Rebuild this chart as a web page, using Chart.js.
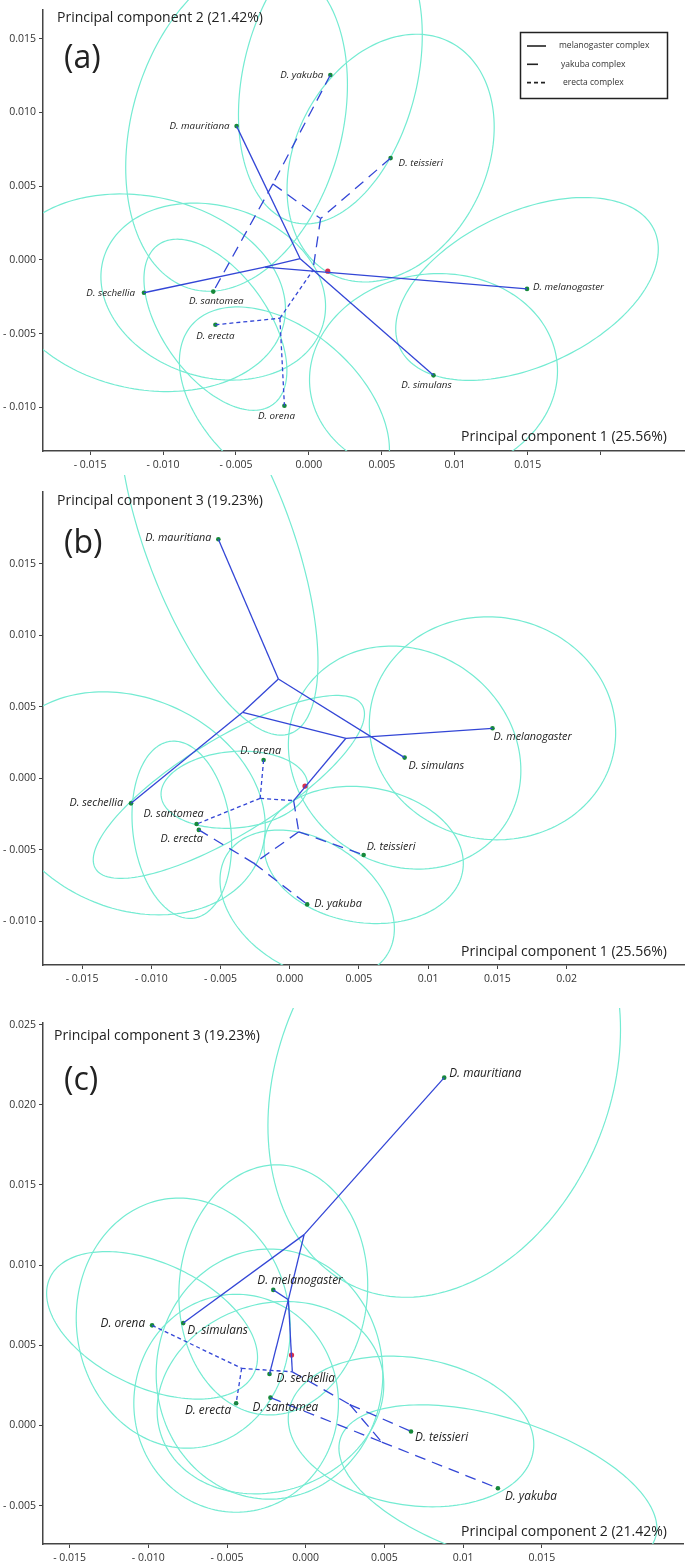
<!DOCTYPE html>
<html>
<head>
<meta charset="utf-8">
<script src="https://cdn.jsdelivr.net/npm/chart.js@4.4.0/dist/chart.umd.min.js"></script>
<style>
  body { margin: 0; background: #fff; }
  #wrap { position: relative; width: 685px; height: 1564px; }
  canvas { position: absolute; left: 0; }
</style>
</head>
<body>
<div id="wrap">
  <canvas id="pa" width="685" height="482" style="top:0px"></canvas>
  <canvas id="pb" width="685" height="510" style="top:475px"></canvas>
  <canvas id="pc" width="685" height="556" style="top:1008px"></canvas>
</div>
<script>
// species order used by every array below
const species = ['D. melanogaster', 'D. simulans', 'D. mauritiana', 'D. sechellia', 'D. yakuba',
  'D. teissieri', 'D. santomea', 'D. erecta', 'D. orena'];

// ---- (a) PC1 x PC2
const pc1A = [0.01495, 0.00854, -0.00496, -0.01131, 0.00147, 0.0056, -0.00656, -0.00641, -0.00168];
const pc2A = [-0.00197, -0.00783, 0.00907, -0.00223, 0.01254, 0.0069, -0.00215, -0.0044, -0.00989];
const rootA = [0.00129, -0.00077];
const nodeXA = [-0.0006, -0.00304, -0.00247, 0.0008, 0.00027, -0.00199];
const nodeYA = [0.00008, -0.00049, 0.00515, 0.0028, -0.00071, -0.00396];
const solidA = [[2, 9], [9, 10], [10, 3], [9, 1], [10, 0]];
const yakubaA = [[4, 11], [11, 6], [11, 12], [5, 12], [12, 13]];
const erectaA = [[7, 14], [14, 8], [14, 13]];
const ellXA = [0.01495, 0.00854, -0.00496, -0.01131, 0.00147, 0.0056, -0.00656, -0.00641, -0.00168];
const ellYA = [-0.00197, -0.00783, 0.00907, -0.00223, 0.01254, 0.0069, -0.00215, -0.0044, -0.00989];
const ellWA = [0.009, 0.0085, 0.0076, 0.0097, 0.0063, 0.0071, 0.0077, 0.0049, 0.0072];
const ellHA = [0.0062, 0.0069, 0.0112, 0.0067, 0.0101, 0.0084, 0.006, 0.0058, 0.0067];
const ellKA = [0.0027, 0.0003, 0.0028, -0.0011, 0.0027, 0.0021, -0.001, -0.0031, -0.003];

// ---- (b) PC1 x PC3
const pc1B = [0.01465, 0.0083, -0.00516, -0.01147, 0.00126, 0.00534, -0.00673, -0.00657, -0.00189];
const pc3B = [0.0035, 0.00145, 0.01672, -0.00175, -0.00882, -0.00536, -0.0032, -0.00361, 0.00128];
const rootB = [0.0011, -0.00054];
const nodeXB = [-0.00082, -0.0034, 0.00406, 0.00028, -0.00214, 0.00065, -0.00258];
const nodeYB = [0.00695, 0.00462, 0.0028, -0.00156, -0.0014, -0.00374, -0.00595];
const solidB = [[2, 9], [9, 10], [10, 3], [9, 1], [10, 11], [11, 0], [11, 12]];
const yakubaB = [[12, 14], [14, 5], [14, 15], [15, 4], [15, 7]];
const erectaB = [[8, 13], [13, 6], [13, 12]];
const ellXB = [0.01465, 0.0083, -0.00516, -0.01147, 0.00126, 0.00534, -0.0044, -0.0078, -0.004];
const ellYB = [0.0035, 0.00145, 0.01672, -0.00175, -0.00882, -0.00536, -0.0006, -0.0036, -0.0008];
const ellWB = [0.0089, 0.0084, 0.0072, 0.0097, 0.0063, 0.0072, 0.0098, 0.0036, 0.0053];
const ellHB = [0.0078, 0.0078, 0.0137, 0.0078, 0.0052, 0.0048, 0.0064, 0.0062, 0.0027];
const ellKB = [-0.0003, -0.0009, -0.0086, -0.0016, -0.0017, -0.0006, 0.0051, -0.001, 0.0003];

// ---- (c) PC2 x PC3
const pc2C = [-0.00206, -0.00778, 0.0088, -0.0023, 0.01221, 0.00669, -0.00224, -0.00442, -0.00976];
const pc3C = [0.00845, 0.00638, 0.02169, 0.0032, -0.00392, -0.00038, 0.00173, 0.00138, 0.00624];
const rootC = [-0.0009, 0.00439];
const nodeXC = [-0.0001, -0.0011, -0.00085, -0.00407, 0.0028, 0.00483];
const nodeYC = [0.0119, 0.00784, 0.00334, 0.00356, 0.0013, -0.00104];
const solidC = [[2, 9], [9, 1], [9, 10], [10, 0], [10, 3], [10, 11]];
const yakubaC = [[11, 13], [13, 5], [13, 14], [6, 14], [14, 4]];
const erectaC = [[8, 12], [12, 7], [12, 11]];
const ellXC = [-0.00206, -0.00778, 0.0088, -0.0023, 0.01221, 0.00669, -0.00224, -0.00442, -0.00976];
const ellYC = [0.00845, 0.00638, 0.02169, 0.0032, -0.00392, -0.00038, 0.00173, 0.00138, 0.00624];
const ellWC = [0.006, 0.0068, 0.0112, 0.0072, 0.0101, 0.0078, 0.0072, 0.0065, 0.0067];
const ellHC = [0.0078, 0.0078, 0.0137, 0.0078, 0.0052, 0.0047, 0.006, 0.0068, 0.0046];
const ellKC = [0.0003, -0.0003, 0.003, 0, -0.0025, -0.0008, 0.0008, 0, -0.002];

// ticks
const xTicksAB = [-0.015, -0.01, -0.005, 0, 0.005, 0.01, 0.015, 0.02];
const xLabelsA = ['- 0.015', '- 0.010', '- 0.005', '0.000', '0.005', '0.01', '0.015', ''];
const xLabelsB = ['- 0.015', '- 0.010', '- 0.005', '0.000', '0.005', '0.01', '0.015', '0.02'];
const yTicksAB = [-0.01, -0.005, 0, 0.005, 0.01, 0.015];
const yLabelsAB = ['- 0.010', '- 0.005', '0.000', '0.005', '0.010', '0.015'];
const xTicksC = [-0.015, -0.01, -0.005, 0, 0.005, 0.01, 0.015];
const xLabelsC = ['- 0.015', '- 0.010', '- 0.005', '0.000', '0.005', '0.01', '0.015'];
const yTicksC = [-0.005, 0, 0.005, 0.01, 0.015, 0.02, 0.025];
const yLabelsC = ['- 0.005', '0.000', '0.005', '0.010', '0.015', '0.020', '0.025'];

// label placement (px offset from point, alignment)
const labPosA = [[6, -2, 'left'], [-7, 10, 'center'], [-7, 0, 'right'], [-9, 0, 'right'], [-7, 0, 'right'],
  [8, 5, 'left'], [3, 10, 'center'], [0, 11, 'center'], [-8, 10, 'center']];
const labPosB = [[1, 9, 'left'], [4, 8, 'left'], [-7, -1, 'right'], [-8, 0, 'right'], [7, 0, 'left'],
  [3, -8, 'left'], [7, -10, 'right'], [4, 9, 'right'], [-3, -9, 'center']];
const labPosC = [[-16, -9, 'left'], [4, 8, 'left'], [5, -4, 'left'], [7, 5, 'left'], [7, 8, 'left'],
  [4, 6, 'left'], [-18, 10, 'left'], [-5, 7, 'right'], [-7, -2, 'right']];

const LINE = '#3346d6';
const ELL = '#74ebd2';
const GREEN = '#16893a';
const RED = '#d8304c';
const FONT = '"Open Sans", "DejaVu Sans", sans-serif';

const panels = {
  pa: { letter: '(a)', ytitle: 'Principal component 2 (21.42%)', xtitle: 'Principal component 1 (25.56%)',
    ell: [ellXA, ellYA, ellWA, ellHA, ellKA], lab: labPosA, labSize: 9.8, legend: true,
    letterDy: 50, ytDx: 14, ytDy: 9, xtDy: 14 },
  pb: { letter: '(b)', ytitle: 'Principal component 3 (19.23%)', xtitle: 'Principal component 1 (25.56%)',
    ell: [ellXB, ellYB, ellWB, ellHB, ellKB], lab: labPosB, labSize: 10.8, legend: false,
    letterDy: 52, ytDx: 14, ytDy: 9, xtDy: 13 },
  pc: { letter: '(c)', ytitle: 'Principal component 3 (19.23%)', xtitle: 'Principal component 2 (21.42%)',
    ell: [ellXC, ellYC, ellWC, ellHC, ellKC], lab: labPosC, labSize: 11.8, legend: false,
    letterDy: 58, ytDx: 11, ytDy: 13, xtDy: 12 }
};

const decor = {
  id: 'decor',
  beforeDatasetsDraw(chart) {
    const p = panels[chart.canvas.id];
    const { ctx, chartArea: a, scales: { x, y } } = chart;
    const [ex, ey, ew, eh, ek] = p.ell;
    ctx.save();
    ctx.beginPath();
    ctx.rect(a.left, 0, a.right - a.left, a.bottom);
    ctx.clip();
    ctx.strokeStyle = ELL;
    ctx.lineWidth = 1.2;
    for (let i = 0; i < ex.length; i++) {
      const q = Math.sqrt(Math.max(eh[i] * eh[i] - ek[i] * ek[i], 0));
      ctx.beginPath();
      for (let s = 0; s <= 180; s++) {
        const t = s / 180 * Math.PI * 2;
        const px = x.getPixelForValue(ex[i] + ew[i] * Math.cos(t));
        const py = y.getPixelForValue(ey[i] + ek[i] * Math.cos(t) + q * Math.sin(t));
        if (s === 0) ctx.moveTo(px, py); else ctx.lineTo(px, py);
      }
      ctx.closePath();
      ctx.stroke();
    }
    ctx.restore();
  },
  afterDatasetsDraw(chart) {
    const p = panels[chart.canvas.id];
    const { ctx, chartArea: a, scales: { x, y } } = chart;
    const pts = chart.data.datasets.find(d => d.label === 'species').data;
    ctx.save();
    ctx.fillStyle = '#222';
    ctx.textBaseline = 'middle';
    ctx.font = 'italic ' + p.labSize + 'px ' + FONT;
    pts.forEach((pt, i) => {
      const [dx, dy, al] = p.lab[i];
      ctx.textAlign = al;
      ctx.fillText(species[i], x.getPixelForValue(pt.x) + dx, y.getPixelForValue(pt.y) + dy);
    });
    // axis titles and panel letter
    ctx.font = '14px ' + FONT;
    ctx.textAlign = 'left';
    ctx.fillText(p.ytitle, a.left + p.ytDx, a.top + p.ytDy);
    ctx.textAlign = 'right';
    ctx.fillText(p.xtitle, 667, a.bottom - p.xtDy);
    ctx.textAlign = 'left';
    ctx.font = '32px ' + FONT;
    ctx.fillText(p.letter, 64, a.top + p.letterDy);
    if (p.legend) {
      ctx.strokeStyle = '#222';
      ctx.lineWidth = 1.5;
      ctx.strokeRect(520.5, 32.5, 147, 66);
      const rows = [['melanogaster complex', []], ['yakuba complex', [11, 9, 2, 20]], ['erecta complex', [4, 3]]];
      rows.forEach((r, i) => {
        const yy = 46 + i * 18.3;
        ctx.beginPath();
        ctx.setLineDash(r[1]);
        ctx.lineWidth = 1.6;
        ctx.moveTo(527, yy);
        ctx.lineTo(546, yy);
        ctx.stroke();
        ctx.setLineDash([]);
        ctx.font = '8.5px ' + FONT;
        ctx.fillStyle = '#333';
        ctx.textAlign = 'left';
        ctx.fillText(r[0], 559 + i * 2, yy);
      });
    }
    ctx.restore();
  }
};

function buildPanel(id, xs, ys, root, nodeX, nodeY, solid, yak, ere, xr, yr, xt, xl, yt, yl, padTop, padRight, xh) {
  const allX = xs.concat(nodeX);
  const allY = ys.concat(nodeY);
  const edgeSets = [];
  const addEdges = (list, dash) => list.forEach(e => edgeSets.push({
    data: [{ x: allX[e[0]], y: allY[e[0]] }, { x: allX[e[1]], y: allY[e[1]] }],
    showLine: true, borderColor: LINE, borderWidth: 1.3, borderDash: dash,
    pointRadius: 0, pointHoverRadius: 0, clip: false
  }));
  addEdges(solid, []);
  addEdges(yak, [11, 7]);
  addEdges(ere, [4, 3]);
  const datasets = edgeSets.concat([
    { label: 'root', data: [{ x: root[0], y: root[1] }], pointRadius: 2.6, pointBackgroundColor: RED,
      pointBorderWidth: 0, clip: false },
    { label: 'species', data: xs.map((v, i) => ({ x: v, y: ys[i] })), pointRadius: 2.3,
      pointBackgroundColor: GREEN, pointBorderWidth: 0, clip: false }
  ]);
  const tickFont = { family: FONT, size: 10.5 };
  return new Chart(document.getElementById(id), {
    type: 'scatter',
    data: { datasets },
    plugins: [decor],
    options: {
      responsive: false,
      animation: false,
      layout: { autoPadding: false, padding: { top: padTop, right: padRight, left: 0, bottom: 0 } },
      plugins: { legend: { display: false }, tooltip: { enabled: false } },
      scales: {
        x: {
          type: 'linear', min: xr[0], max: xr[1],
          afterBuildTicks: s => { s.ticks = xt.map(v => ({ value: v })); },
          afterFit: s => { s.height = xh; },
          ticks: { autoSkip: false, maxRotation: 0, padding: 4, color: '#333', font: tickFont,
            callback: (v, i) => xl[i] },
          grid: { drawOnChartArea: false, drawTicks: true, tickLength: 4, color: '#444', lineWidth: 1 },
          border: { display: true, color: '#444', width: 1.5 }
        },
        y: {
          type: 'linear', min: yr[0], max: yr[1],
          afterBuildTicks: s => { s.ticks = yt.map(v => ({ value: v })); },
          afterFit: s => { s.width = 43; },
          ticks: { autoSkip: false, padding: 3, color: '#333', font: tickFont,
            callback: (v, i) => yl[i] },
          grid: { drawOnChartArea: false, drawTicks: true, tickLength: 4, color: '#444', lineWidth: 1 },
          border: { display: true, color: '#444', width: 1.5 }
        }
      }
    }
  });
}

buildPanel('pa', pc1A, pc2A, rootA, nodeXA, nodeYA, solidA, yakubaA, erectaA,
  [-0.01823, 0.02578], [-0.01296, 0.01699], xTicksAB, xLabelsA, yTicksAB, yLabelsAB, 0, 0, 31);
buildPanel('pb', pc1B, pc3B, rootB, nodeXB, nodeYB, solidB, yakubaB, erectaB,
  [-0.01783, 0.02856], [-0.01306, 0.02003], xTicksAB, xLabelsB, yTicksAB, yLabelsAB, 17, 0, 20);
buildPanel('pc', pc2C, pc3C, rootC, nodeXC, nodeYC, solidC, yakubaC, erectaC,
  [-0.01669, 0.02397], [-0.0074, 0.0251], xTicksC, xLabelsC, yTicksC, yLabelsC, 15, 2, 20);
</script>
</body>
</html>
